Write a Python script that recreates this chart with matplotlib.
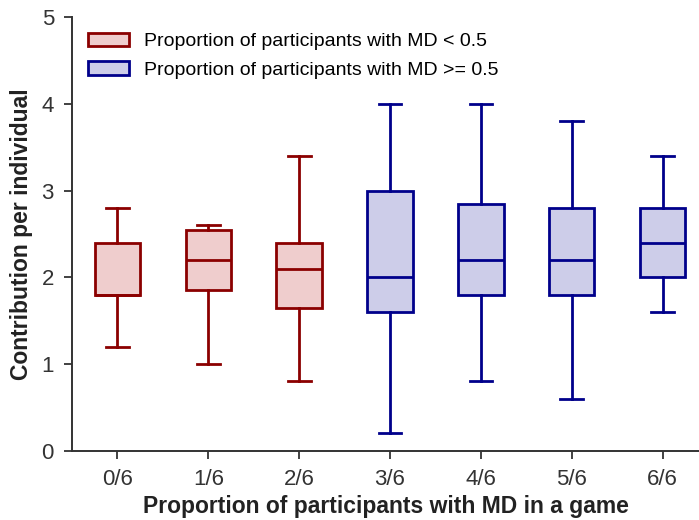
import matplotlib
matplotlib.use("Agg")
from matplotlib import pyplot as plt
from matplotlib.patches import Patch

plt.rcParams["font.family"] = ["Liberation Sans", "DejaVu Sans"]

# categories and box statistics
labels = ['0/6', '1/6', '2/6', '3/6', '4/6', '5/6', '6/6']
whislo = [1.2, 1.0, 0.8, 0.2, 0.8, 0.6, 1.6]
q1 = [1.8, 1.85, 1.65, 1.6, 1.8, 1.8, 2.0]
med = [1.8, 2.2, 2.1, 2.0, 2.2, 2.2, 2.4]
q3 = [2.4, 2.55, 2.4, 3.0, 2.85, 2.8, 2.8]
whishi = [2.8, 2.6, 3.4, 4.0, 4.0, 3.8, 3.4]
group = [0, 0, 0, 1, 1, 1, 1]  # 0: MD < 0.5, 1: MD >= 0.5

edge = ['#8b0000', '#00008b']
fill = ['#efcdcd', '#cdcde9']
lw = 2.0

fig = plt.figure(figsize=(6.99, 5.2), dpi=100)
ax = fig.add_axes([0.103, 0.133, 0.897, 0.834])

for i in range(len(labels)):
    st = dict(whislo=whislo[i], q1=q1[i], med=med[i], q3=q3[i], whishi=whishi[i], fliers=[])
    c = edge[group[i]]
    ax.bxp([st], positions=[i], widths=0.5, capwidths=0.25, patch_artist=True, showfliers=False,
           boxprops=dict(facecolor=fill[group[i]], edgecolor=c, linewidth=lw),
           medianprops=dict(color=c, linewidth=lw),
           whiskerprops=dict(color=c, linewidth=lw),
           capprops=dict(color=c, linewidth=lw))

ax.set_xlim(-0.5, 6.4)
ax.set_ylim(0, 5)
ax.set_xticks(range(len(labels)))
ax.set_xticklabels(labels)
ax.set_yticks([0, 1, 2, 3, 4, 5])
ax.spines['top'].set_visible(False)
ax.spines['right'].set_visible(False)
for s in ['left', 'bottom']:
    ax.spines[s].set_color('#333333')
    ax.spines[s].set_linewidth(1.4)
ax.tick_params(axis='both', labelsize=16, colors='#333333', length=6, width=1.3)
ax.tick_params(axis='x', pad=7)
ax.tick_params(axis='y', pad=7)

ax.set_xlabel('Proportion of participants with MD in a game', fontsize=16.5, fontweight='bold',
              color='#222222', labelpad=4)
ax.set_ylabel('Contribution per individual', fontsize=16.5, fontweight='bold', color='#222222',
              labelpad=6)

handles = [Patch(facecolor=fill[0], edgecolor=edge[0], linewidth=lw),
           Patch(facecolor=fill[1], edgecolor=edge[1], linewidth=lw)]
ax.legend(handles, ['Proportion of participants with MD < 0.5',
                    'Proportion of participants with MD >= 0.5'],
          loc='upper left', frameon=False, fontsize=14, handlelength=2.15, handleheight=0.7,
          handletextpad=0.75, borderaxespad=0.4, labelspacing=0.55)

fig.savefig('out.png', dpi=100)
